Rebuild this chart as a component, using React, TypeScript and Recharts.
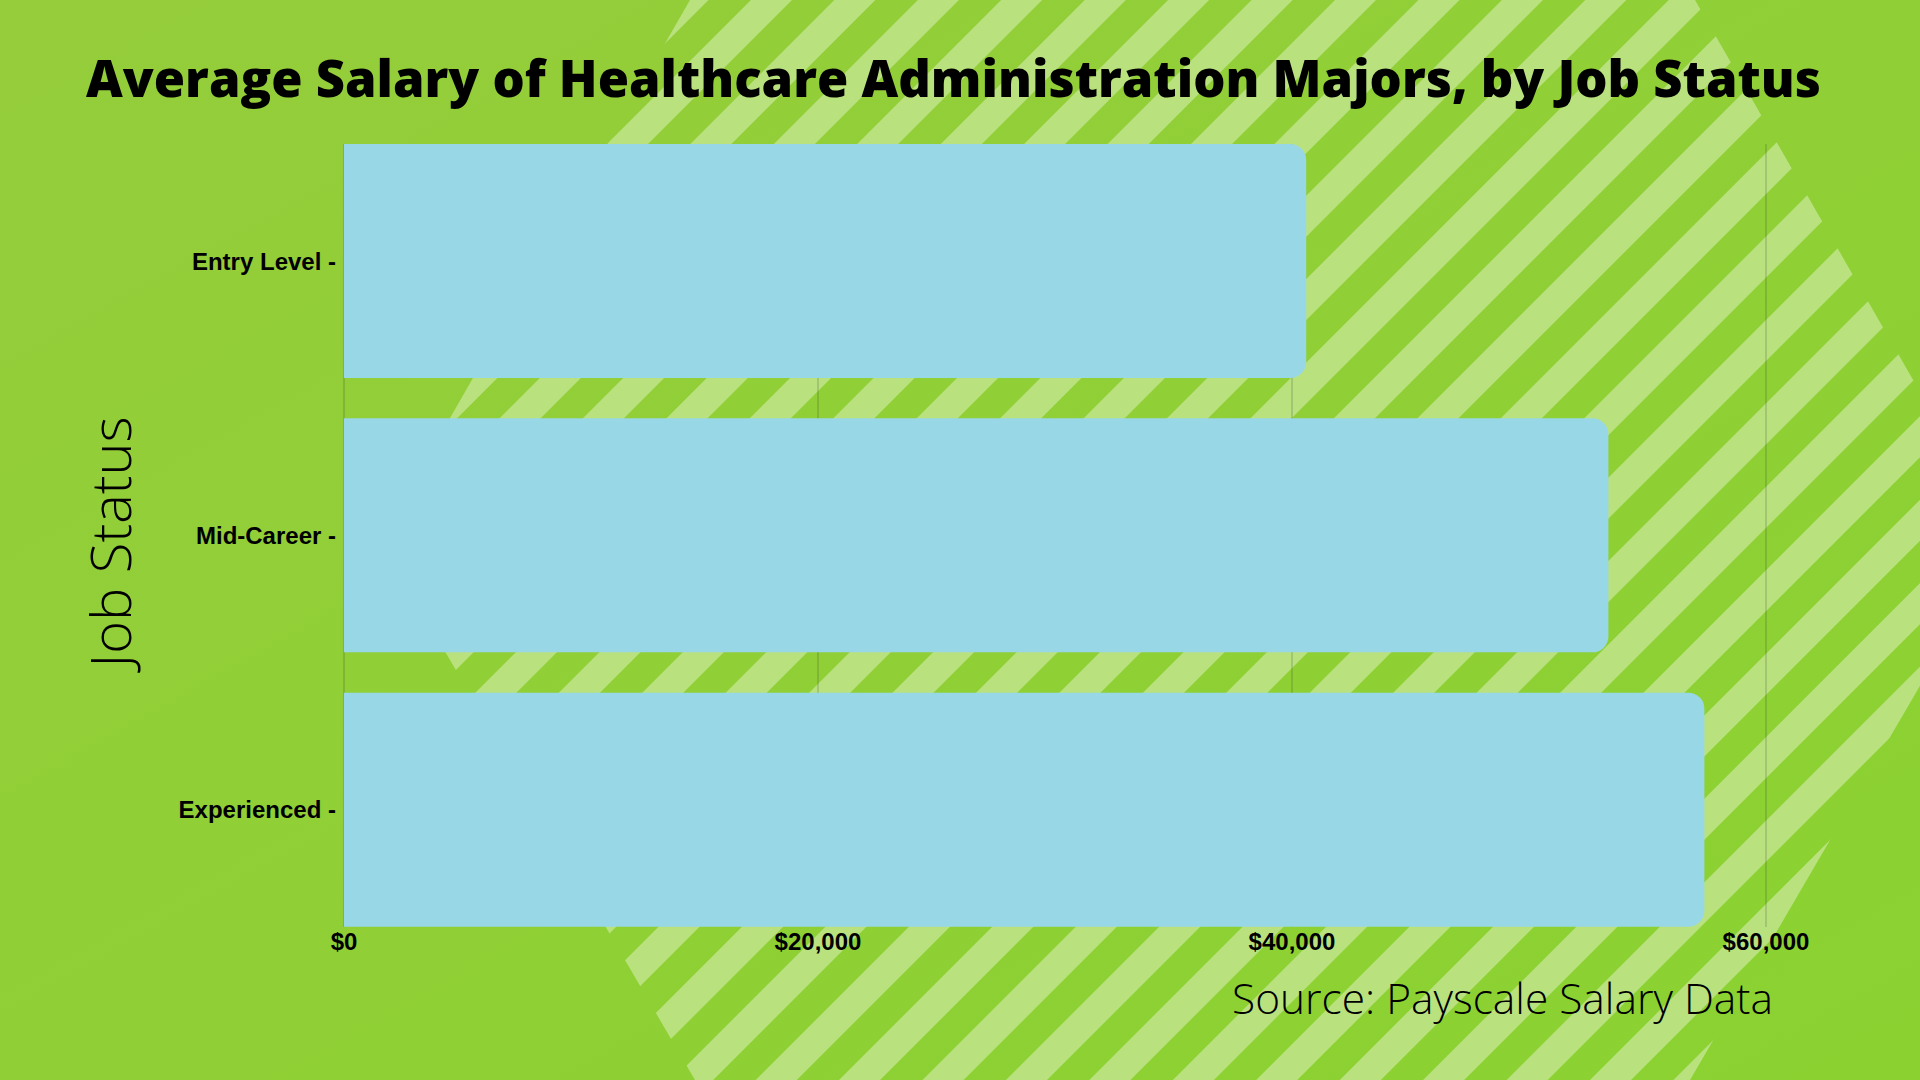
import { BarChart, Bar, XAxis, YAxis, CartesianGrid } from 'recharts'

const statuses = ['Entry Level', 'Mid-Career', 'Experienced']
const salaries = [40600, 53350, 57400]
const xTicks = [0, 20000, 40000, 60000]

const data = statuses.map((status, i) => ({ status, salary: salaries[i] }))

const W = 1920
const H = 1080
const HEX = '690,0 1695,0 2005,540 1690,1080 695,1080 380,540'

const fmtMoney = (v: number) => `$${v.toLocaleString('en-US')}`

function Background() {
  return (
    <svg width={W} height={H} style={{ position: 'absolute', left: 0, top: 0 }}>
      <defs>
        <linearGradient id="bg" x1="0" y1="0" x2="1" y2="1">
          <stop offset="0%" stopColor="#95cd3b" />
          <stop offset="100%" stopColor="#8bd231" />
        </linearGradient>
        <pattern id="stripes" patternUnits="userSpaceOnUse" width={59} height={20}
          patternTransform="rotate(45)">
          <rect x={0} y={0} width={29} height={20} fill="#b9e27f" />
        </pattern>
        <clipPath id="hex">
          <polygon points={HEX} />
        </clipPath>
      </defs>
      <rect width={W} height={H} fill="url(#bg)" />
      <rect width={W} height={H} fill="url(#stripes)" clipPath="url(#hex)" />
    </svg>
  )
}

function Overlay() {
  return (
    <svg width={W} height={H} style={{ position: 'absolute', left: 0, top: 0, pointerEvents: 'none' }}>
      <text x={86} y={97} textLength={1735} lengthAdjust="spacingAndGlyphs"
        fontFamily="'Open Sans', sans-serif" fontWeight={800} fontSize={52} fill="#000">
        Average Salary of Healthcare Administration Majors, by Job Status
      </text>
      <text x={131} y={542} transform="rotate(-90 131 542)" textAnchor="middle"
        fontFamily="'Open Sans', sans-serif" fontWeight={300} fontSize={56} fill="#000">
        Job Status
      </text>
      <text x={1232} y={1014} textLength={541} lengthAdjust="spacingAndGlyphs"
        fontFamily="'Open Sans', sans-serif" fontWeight={300} fontSize={42} fill="#000">
        Source: Payscale Salary Data
      </text>
    </svg>
  )
}

export default function App() {
  return (
    <div style={{ position: 'absolute', left: 0, top: 0, width: W, height: H, overflow: 'hidden' }}>
      <Background />
      <div style={{ position: 'absolute', left: 0, top: 0 }}>
        <BarChart width={W} height={H} data={data} layout="vertical"
          margin={{ top: 144, right: 154, bottom: 93, left: 0 }} barCategoryGap={20}>
          <CartesianGrid horizontal={false} stroke="rgba(50,60,40,0.35)" strokeWidth={1} />
          <XAxis type="number" domain={[0, 60000]} ticks={xTicks} tickFormatter={fmtMoney}
            axisLine={false} tickLine={false} height={60} tickMargin={0} interval={0}
            tick={{ fontFamily: "'Liberation Sans', Arial, sans-serif", fontWeight: 'bold', fontSize: 24, fill: '#000' }} />
          <YAxis type="category" dataKey="status" width={344} axisLine={false} tickLine={false}
            padding={{ top: -20, bottom: -20 }}
            tickFormatter={(v: string) => `${v} -`}
            tick={{ fontFamily: "'Liberation Sans', Arial, sans-serif", fontWeight: 'bold', fontSize: 24, fill: '#000' }} />
          <Bar dataKey="salary" fill="#98d7e6" radius={[0, 16, 16, 0]} isAnimationActive={false} />
        </BarChart>
      </div>
      <Overlay />
    </div>
  )
}
